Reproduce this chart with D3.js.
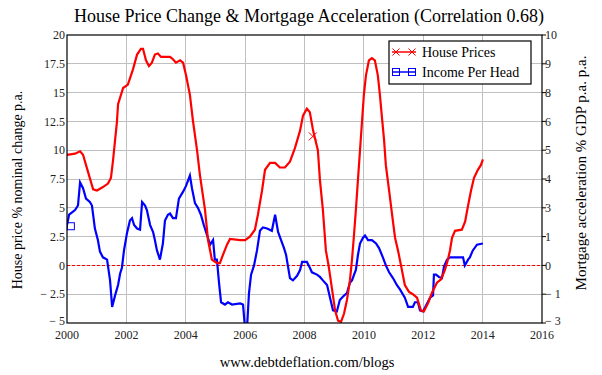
<!DOCTYPE html>
<html>
<head>
<meta charset="utf-8">
<script src="https://cdn.jsdelivr.net/npm/d3@7"></script>
<style>
  body { margin: 0; background: #fff; }
  svg { font-family: "Liberation Serif", "Times New Roman", serif; }
  .grid line { stroke: #c0c0c0; stroke-width: 1; shape-rendering: crispEdges; }
  .tick-label { font-size: 12px; fill: #222; }
</style>
</head>
<body>
<script>
// house price change, % p.a. (left axis)
const houseDates = [2000.00, 2000.27, 2000.44, 2000.54, 2000.71, 2000.88, 2001.01, 2001.21, 2001.38, 2001.48,
  2001.55, 2001.62, 2001.68, 2001.72, 2001.89, 2002.05, 2002.22, 2002.36, 2002.49, 2002.56,
  2002.66, 2002.76, 2002.86, 2002.96, 2003.06, 2003.17, 2003.47, 2003.57, 2003.67, 2003.81,
  2003.91, 2004.01, 2004.14, 2004.24, 2004.38, 2004.48, 2004.65, 2004.75, 2004.82, 2004.88,
  2005.05, 2005.15, 2005.25, 2005.39, 2005.49, 2005.83, 2006.00, 2006.16, 2006.33, 2006.43,
  2006.57, 2006.67, 2006.84, 2007.01, 2007.17, 2007.34, 2007.51, 2007.68, 2007.85, 2007.95,
  2008.08, 2008.18, 2008.29, 2008.45, 2008.52, 2008.62, 2008.72, 2008.81, 2008.93, 2009.03,
  2009.13, 2009.23, 2009.33, 2009.43, 2009.53, 2009.60, 2009.66, 2009.73, 2009.80, 2009.87,
  2009.94, 2010.00, 2010.07, 2010.17, 2010.27, 2010.37, 2010.47, 2010.54, 2010.61, 2010.68,
  2010.74, 2010.85, 2010.95, 2011.05, 2011.15, 2011.25, 2011.38, 2011.52, 2011.65, 2011.79,
  2011.92, 2012.02, 2012.16, 2012.29, 2012.46, 2012.60, 2012.73, 2012.83, 2012.90, 2012.97,
  2013.07, 2013.30, 2013.41, 2013.51, 2013.61, 2013.71, 2013.84, 2013.94, 2014.01];
const housePrices = [9.6, 9.7, 9.9, 9.6, 8.1, 6.6, 6.5, 6.8, 7.1, 7.6,
  9.1, 10.9, 12.4, 14.0, 15.4, 15.7, 17.0, 18.3, 18.8, 18.8,
  17.8, 17.3, 17.6, 18.3, 18.4, 18.1, 18.1, 17.9, 17.6, 17.8,
  17.6, 16.5, 14.8, 12.6, 10.0, 7.8, 4.8, 2.2, 1.3, 0.5,
  0.2, 0.2, 0.9, 1.8, 2.3, 2.2, 2.2, 2.5, 3.1, 4.4,
  6.5, 8.3, 8.9, 8.9, 8.5, 8.5, 9.0, 10.2, 11.7, 13.0,
  13.6, 13.3, 11.7, 10.0, 7.4, 4.8, 1.3, 0.0, -2.1, -3.9,
  -4.8, -4.9, -4.2, -3.0, -1.3, 0.5, 2.4, 4.8, 7.4, 10.0,
  12.6, 14.8, 16.5, 17.8, 18.0, 17.8, 16.5, 14.8, 12.8, 10.9,
  8.7, 6.5, 4.4, 2.4, 1.3, 0.0, -1.7, -2.3, -2.5, -2.8,
  -3.9, -4.0, -3.3, -2.4, -1.5, -1.2, -0.4, 0.5, 1.3, 2.4,
  3.0, 3.1, 3.8, 5.2, 6.5, 7.6, 8.3, 8.7, 9.2];

// blue series, % GDP p.a. p.a. (right axis)
const incomeDates = [2000.00, 2000.07, 2000.17, 2000.27, 2000.37, 2000.44, 2000.54, 2000.64, 2000.77, 2000.84,
  2000.94, 2001.04, 2001.11, 2001.21, 2001.35, 2001.45, 2001.52, 2001.62, 2001.72, 2001.79,
  2001.85, 2001.92, 2002.02, 2002.12, 2002.19, 2002.26, 2002.36, 2002.46, 2002.53, 2002.63,
  2002.69, 2002.80, 2002.90, 2002.96, 2003.03, 2003.13, 2003.23, 2003.30, 2003.40, 2003.47,
  2003.57, 2003.67, 2003.77, 2003.91, 2004.01, 2004.14, 2004.21, 2004.31, 2004.41, 2004.51,
  2004.61, 2004.72, 2004.82, 2004.92, 2004.98, 2005.05, 2005.12, 2005.19, 2005.32, 2005.42,
  2005.56, 2005.83, 2005.93, 2006.00, 2006.06, 2006.13, 2006.20, 2006.30, 2006.40, 2006.50,
  2006.60, 2006.74, 2006.90, 2007.01, 2007.11, 2007.21, 2007.31, 2007.38, 2007.51, 2007.61,
  2007.75, 2007.85, 2007.92, 2008.08, 2008.18, 2008.25, 2008.42, 2008.52, 2008.62, 2008.76,
  2008.86, 2008.96, 2009.09, 2009.19, 2009.30, 2009.43, 2009.53, 2009.60, 2009.67, 2009.73,
  2009.80, 2009.87, 2009.97, 2010.04, 2010.14, 2010.27, 2010.41, 2010.51, 2010.64, 2010.74,
  2010.85, 2010.98, 2011.11, 2011.22, 2011.38, 2011.49, 2011.65, 2011.72, 2011.82, 2011.89,
  2011.99, 2012.13, 2012.23, 2012.33, 2012.36, 2012.43, 2012.53, 2012.63, 2012.70, 2012.80,
  2012.90, 2013.34, 2013.40, 2013.51, 2013.57, 2013.67, 2013.81, 2014.01];
const incomePerHead = [1.75, 2.2, 2.3, 2.4, 2.6, 3.6, 3.35, 2.9, 2.75, 2.6,
  1.6, 1.1, 0.6, 0.35, 0.25, -0.65, -1.8, -1.3, -0.85, -0.35,
  -0.1, 0.65, 1.4, 1.95, 2.05, 1.75, 1.6, 1.55, 2.75, 2.6,
  2.4, 1.75, 1.45, 1.1, 0.65, 0.25, 0.95, 1.95, 2.2, 2.25,
  2.05, 2.05, 2.9, 3.2, 3.45, 3.9, 3.35, 2.7, 2.5, 2.2,
  1.75, 1.3, 0.9, 1.1, 0.25, 0.25, -0.75, -1.6, -1.7, -1.6,
  -1.7, -1.65, -1.7, -2.8, -2.8, -1.2, -0.4, 0.0, 0.65, 1.5,
  1.65, 1.6, 1.5, 2.2, 1.45, 1.1, 0.75, 0.45, -0.55, -0.65,
  -0.45, -0.2, 0.15, 0.15, -0.1, -0.3, -0.4, -0.5, -0.65, -0.85,
  -1.4, -1.95, -2.0, -1.5, -1.35, -1.2, -0.75, -0.65, -0.4, -0.2,
  0.45, 0.95, 1.2, 1.3, 1.1, 1.1, 0.95, 0.75, 0.35, 0.0,
  -0.3, -0.55, -0.85, -1.05, -1.4, -1.8, -1.8, -1.6, -1.6, -1.95,
  -2.0, -1.65, -1.4, -1.3, -0.4, -0.4, -0.5, -0.55, -0.05, 0.25,
  0.35, 0.35, 0.0, 0.25, 0.35, 0.65, 0.9, 0.95];

const leftTicks = [-5, -2.5, 0, 2.5, 5, 7.5, 10, 12.5, 15, 17.5, 20];
const rightTicks = [-2.5, -1.25, 0, 1.25, 2.5, 3.75, 5, 6.25, 7.5, 8.75, 10];
const yearTicks = [2000, 2002, 2004, 2006, 2008, 2010, 2012, 2014, 2016];

// trace markers (Mathcad style)
const houseMarker = [2008.28, 11.2];
const incomeMarker = [2000.08, 1.7];

const width = 602;
const height = 375;
const m = { left: 67, right: 542, top: 35, bottom: 323 };

const x = d3.scaleLinear().domain([2000, 2016]).range([m.left, m.right]);
const yL = d3.scaleLinear().domain([-5, 20]).range([m.bottom, m.top]);
const yR = d3.scaleLinear().domain([-2.5, 10]).range([m.bottom, m.top]);

const svg = d3.select('body').append('svg')
  .attr('width', width)
  .attr('height', height);

svg.append('defs').append('clipPath')
  .attr('id', 'plot-clip')
  .append('rect')
  .attr('x', m.left).attr('y', m.top)
  .attr('width', m.right - m.left).attr('height', m.bottom - m.top);

// grid, snapped to whole pixels
const snap = v => Math.floor(v) + 0.5;
const grid = svg.append('g').attr('class', 'grid');
grid.selectAll('.hg')
  .data(leftTicks.slice(1, -1))
  .enter().append('line')
  .attr('x1', m.left).attr('x2', m.right)
  .attr('y1', d => snap(yL(d))).attr('y2', d => snap(yL(d)));
grid.selectAll('.vg')
  .data(yearTicks.slice(1, -1))
  .enter().append('line')
  .attr('x1', d => snap(x(d))).attr('x2', d => snap(x(d)))
  .attr('y1', m.top).attr('y2', m.bottom);

// zero line, dashed red over the grey grid row
svg.append('line')
  .attr('x1', m.left).attr('x2', m.right)
  .attr('y1', snap(yL(0))).attr('y2', snap(yL(0)))
  .attr('stroke', '#ff0000')
  .attr('stroke-width', 1)
  .attr('shape-rendering', 'crispEdges')
  .attr('stroke-dasharray', '3,2');

// series
const plot = svg.append('g').attr('clip-path', 'url(#plot-clip)');

const houseLine = d3.line()
  .x((d, i) => x(houseDates[i]))
  .y(d => yL(d));
const incomeLine = d3.line()
  .x((d, i) => x(incomeDates[i]))
  .y(d => yR(d));

plot.append('path')
  .datum(incomePerHead)
  .attr('fill', 'none')
  .attr('stroke', '#0000ff')
  .attr('stroke-width', 2.2)
  .attr('d', incomeLine);

plot.append('path')
  .datum(housePrices)
  .attr('fill', 'none')
  .attr('stroke', '#ff0000')
  .attr('stroke-width', 2.2)
  .attr('d', houseLine);

function cross(g, cx, cy, r, color) {
  g.append('path')
    .attr('d', `M${cx - r},${cy - r}L${cx + r},${cy + r}M${cx - r},${cy + r}L${cx + r},${cy - r}`)
    .attr('stroke', color).attr('stroke-width', 1).attr('fill', 'none');
}
function square(g, cx, cy, r, color) {
  g.append('rect')
    .attr('x', cx - r).attr('y', cy - r)
    .attr('width', 2 * r).attr('height', 2 * r)
    .attr('stroke', color).attr('stroke-width', 1).attr('fill', 'none');
}

cross(svg, x(houseMarker[0]), yL(houseMarker[1]), 4, '#ff0000');
square(svg, x(incomeMarker[0]) + 1.5, yR(incomeMarker[1]), 3.5, '#0000ff');

// frame
svg.append('rect')
  .attr('x', m.left).attr('y', m.top)
  .attr('width', m.right - m.left).attr('height', m.bottom - m.top)
  .attr('fill', 'none').attr('stroke', '#000').attr('stroke-width', 1.2);

// left axis labels
const fmtMinus = s => s.replace('-', '\u2212 ');
svg.append('g').selectAll('text')
  .data(leftTicks)
  .enter().append('text')
  .attr('class', 'tick-label')
  .attr('x', m.left - 2)
  .attr('y', d => yL(d) - (d === -5 ? 2 : 0))
  .attr('dy', '0.35em')
  .attr('text-anchor', 'end')
  .text(d => fmtMinus(String(d)));

// right axis ticks + labels (rounded to integers)
const roundAway = d => Math.sign(d) * Math.round(Math.abs(d));
svg.append('g').selectAll('line')
  .data(rightTicks)
  .enter().append('line')
  .attr('x1', m.right).attr('x2', m.right + 4)
  .attr('y1', d => yR(d)).attr('y2', d => yR(d))
  .attr('stroke', '#000');
svg.append('g').selectAll('text')
  .data(rightTicks)
  .enter().append('text')
  .attr('class', 'tick-label')
  .attr('x', m.right + 3)
  .attr('y', d => yR(d) - (d === -2.5 ? 2 : 0))
  .attr('dy', '0.35em')
  .text(d => fmtMinus(String(roundAway(d))));

// x axis labels
svg.append('g').selectAll('text')
  .data(yearTicks)
  .enter().append('text')
  .attr('class', 'tick-label')
  .attr('x', d => x(d))
  .attr('y', m.bottom + 16)
  .attr('text-anchor', 'middle')
  .text(d => d);

// titles
svg.append('text')
  .attr('x', 309).attr('y', 22)
  .attr('text-anchor', 'middle')
  .style('font-size', '18px')
  .text('House Price Change & Mortgage Acceleration (Correlation 0.68)');

svg.append('text')
  .attr('transform', 'translate(22,190) rotate(-90)')
  .attr('text-anchor', 'middle')
  .style('font-size', '14px')
  .text('House price % nominal change p.a.');

svg.append('text')
  .attr('transform', 'translate(586,173) rotate(-90)')
  .attr('text-anchor', 'middle')
  .style('font-size', '15px')
  .text('Mortgage acceleration % GDP p.a. p.a.');

svg.append('text')
  .attr('x', 307).attr('y', 367)
  .attr('text-anchor', 'middle')
  .style('font-size', '14.5px')
  .text('www.debtdeflation.com/blogs');

// legend
const legend = svg.append('g');
legend.append('rect')
  .attr('x', 389).attr('y', 41)
  .attr('width', 142).attr('height', 43)
  .attr('fill', '#fff').attr('stroke', '#000').attr('stroke-width', 1.2);

const legendItems = [
  { label: 'House Prices', color: '#ff0000', mark: cross },
  { label: 'Income Per Head', color: '#0000ff', mark: square }
];
legendItems.forEach((d, i) => {
  const ly = 52 + i * 20;
  legend.append('line')
    .attr('x1', 392).attr('x2', 416)
    .attr('y1', ly).attr('y2', ly)
    .attr('stroke', d.color).attr('stroke-width', 1.5);
  d.mark(legend, 396, ly, 3.5, d.color);
  d.mark(legend, 412, ly, 3.5, d.color);
  legend.append('text')
    .attr('x', 422).attr('y', ly)
    .attr('dy', '0.35em')
    .style('font-size', '14px')
    .text(d.label);
});
</script>
</body>
</html>
